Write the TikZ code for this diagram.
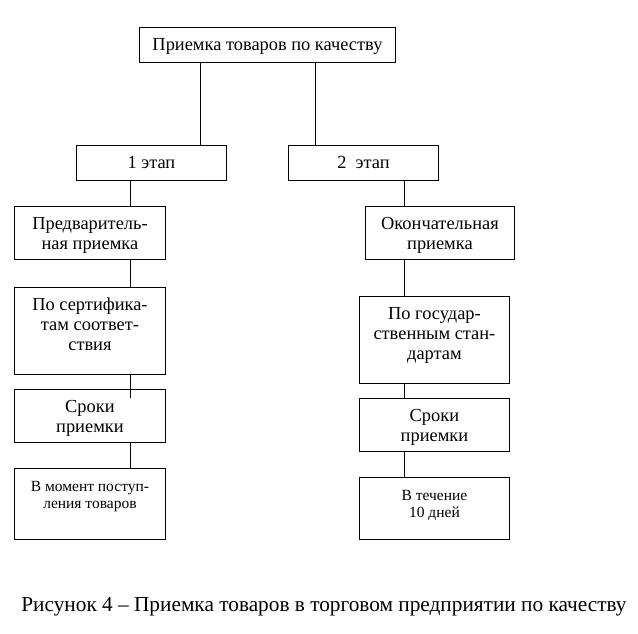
\documentclass[tikz,border=0pt]{standalone}
\usepackage{fontspec}
\setmainfont{Liberation Serif}
\usetikzlibrary{positioning}

% box text: width, height, lines (top aligned)
\newcommand{\cell}[3]{\parbox[t][#2][t]{#1}{\centering\rule{0pt}{23pt}#3}}

\begin{document}
\begin{tikzpicture}[x=1pt,y=-1pt,
    stage/.style={draw,line width=0.9pt,inner sep=0pt,anchor=north west,
      font=\fontsize{18.4}{20}\selectfont},
    small/.style={stage,font=\fontsize{15.5}{16.7}\selectfont},
    link/.style={line width=0.9pt}]
  \useasboundingbox (0,0) rectangle (638,633);
  % top and stages
  \node[stage] (root) at (139,27) {\cell{256pt}{35pt}{Приемка товаров по качеству}};
  \node[stage] (st1) at (76,145) {\cell{150pt}{35pt}{1 этап}};
  \node[stage] (st2) at (288,145) {\cell{150pt}{35pt}{2\ \ этап}};
  % left branch
  \node[stage] (pre) at (14,206) {\cell{151pt}{53pt}{Предваритель-\\ная приемка}};
  \node[stage] (cert) at (14,287) {\cell{151pt}{87pt}{По сертифика-\\там соответ-\\ствия}};
  \node[stage] (term1) at (14,389) {\cell{151pt}{53pt}{Сроки\\приемки}};
  \node[small] (when1) at (14,468) {\cell{151pt}{71pt}{\rule{0pt}{14pt}В момент поступ-\\ления товаров}};
  % right branch
  \node[stage] (fin) at (365,206) {\cell{149pt}{53pt}{Окончательная\\приемка}};
  \node[stage] (gost) at (359,296) {\cell{150pt}{87pt}{По государ-\\ственным стан-\\дартам}};
  \node[stage] (term2) at (359,398) {\cell{150pt}{53pt}{Сроки\\приемки}};
  \node[small] (when2) at (359,477) {\cell{150pt}{62pt}{В течение\\10 дней}};
  % connectors
  \coordinate (xa) at (200,0);
  \coordinate (xb) at (315,0);
  \coordinate (xl) at (130,0);
  \coordinate (xr) at (404,0);
  \draw[link] (root.south -| xa) -- (st1.north -| xa);
  \draw[link] (root.south -| xb) -- (st2.north -| xb);
  \draw[link] (st1.south -| xl) -- (pre.north -| xl);
  \draw[link] (pre.south -| xl) -- (cert.north -| xl);
  \draw[link] (cert.south -| xl) -- ([yshift=-9pt]term1.north -| xl);
  \draw[link] (term1.south -| xl) -- (when1.north -| xl);
  \draw[link] (st2.south -| xr) -- (fin.north -| xr);
  \draw[link] (fin.south -| xr) -- (gost.north -| xr);
  \draw[link] (gost.south -| xr) -- (term2.north -| xr);
  \draw[link] (term2.south -| xr) -- (when2.north -| xr);
  % caption
  \node[font=\fontsize{21.3}{24}\selectfont] (cap) at (324,607)
    {Рисунок 4 – Приемка товаров в торговом предприятии по качеству};
\end{tikzpicture}
\end{document}
